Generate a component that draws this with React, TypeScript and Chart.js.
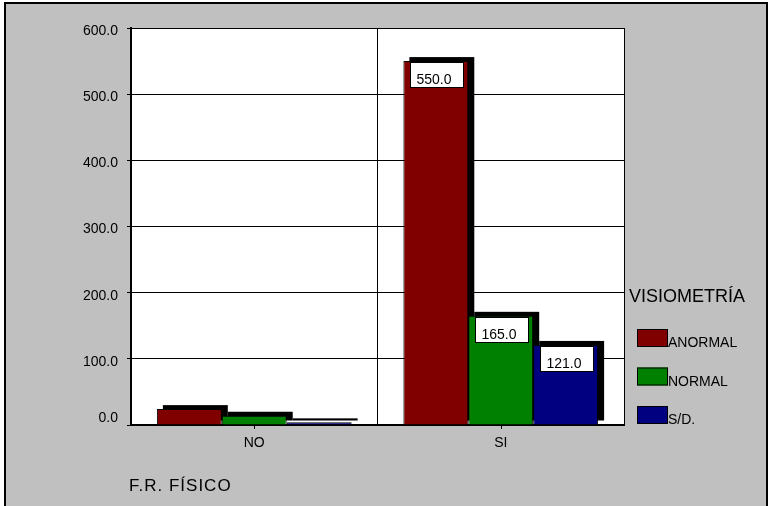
import { useEffect, useRef } from "react";
import { Chart, registerables } from "chart.js";

Chart.register(...registerables);

// Categories and series values
const categories = ["NO", "SI"];
const seriesNames = ["ANORMAL", "NORMAL", "S/D."];
const anormalValues = [24, 550];
const normalValues = [14, 165];
const sinDatoValues = [4, 121];
const seriesColors = ["#800000", "#008000", "#000080"];

// Axis setup
const yMin = 0;
const yMax = 600;
const yStep = 100;
const legendTitle = "VISIOMETRÍA";
const xAxisTitle = "F.R. FÍSICO";

const FONT = "'Liberation Sans', Arial, sans-serif";

const decorPlugin = {
  id: "spssDecor",
  beforeDraw(chart: any) {
    const { ctx, width, height, chartArea } = chart;
    ctx.save();
    ctx.fillStyle = "#ffffff";
    ctx.fillRect(0, 0, width, height);
    // grey panel with a black frame on three sides
    ctx.fillStyle = "#c0c0c0";
    ctx.fillRect(4, 3, 764, height - 3);
    ctx.fillStyle = "#000000";
    ctx.fillRect(4, 2, 764, 2);
    ctx.fillRect(4, 2, 2, height - 2);
    ctx.fillRect(766, 2, 2, height - 2);
    // white plotting area
    ctx.fillStyle = "#ffffff";
    ctx.fillRect(
      chartArea.left,
      chartArea.top,
      chartArea.right - chartArea.left,
      chartArea.bottom - chartArea.top
    );
    ctx.restore();
  },
  beforeDatasetsDraw(chart: any) {
    // drop shadows behind every bar
    const { ctx } = chart;
    ctx.save();
    ctx.fillStyle = "#000000";
    chart.data.datasets.forEach((_: any, di: number) => {
      const meta = chart.getDatasetMeta(di);
      meta.data.forEach((bar: any) => {
        const { x, y, base, width } = bar.getProps(["x", "y", "base", "width"], true);
        ctx.fillRect(x - width / 2 + 6, y - 4, width, base - y);
      });
    });
    ctx.restore();
  },
  afterDatasetsDraw(chart: any) {
    const { ctx, chartArea } = chart;
    ctx.save();
    // value boxes inside the tall bars
    ctx.font = `14px ${FONT}`;
    ctx.textBaseline = "alphabetic";
    ctx.textAlign = "left";
    chart.data.datasets.forEach((ds: any, di: number) => {
      const meta = chart.getDatasetMeta(di);
      meta.data.forEach((bar: any, i: number) => {
        const { x, y, base, width } = bar.getProps(["x", "y", "base", "width"], true);
        if (base - y < 40) return;
        const bx = Math.round(x - width / 2 + 7) + 0.5;
        const by = Math.round(y + 1) + 0.5;
        ctx.fillStyle = "#ffffff";
        ctx.fillRect(bx, by, 53, 25);
        ctx.strokeStyle = "#000000";
        ctx.lineWidth = 1;
        ctx.strokeRect(bx, by, 53, 25);
        ctx.fillStyle = "#000000";
        ctx.fillText(Number(ds.data[i]).toFixed(1), bx + 6, by + 21);
      });
    });
    // small tick marks under each category
    const xs = chart.scales.x;
    ctx.strokeStyle = "#000000";
    ctx.lineWidth = 1;
    categories.forEach((_, i) => {
      const px = Math.round(xs.getPixelForValue(i)) + 0.5;
      ctx.beginPath();
      ctx.moveTo(px, chartArea.bottom);
      ctx.lineTo(px, chartArea.bottom + 4);
      ctx.stroke();
    });
    ctx.restore();
  },
  afterDraw(chart: any) {
    const { ctx, chartArea } = chart;
    const ys = chart.scales.y;
    ctx.save();
    ctx.fillStyle = "#000000";
    ctx.textBaseline = "alphabetic";
    // baseline label of the value axis sits just above the axis line
    ctx.font = `14px ${FONT}`;
    ctx.textAlign = "right";
    ctx.textBaseline = "middle";
    ctx.fillText(yMin.toFixed(1), chartArea.left - 13, ys.getPixelForValue(yMin) - 7);
    ctx.textBaseline = "alphabetic";
    ctx.textAlign = "left";
    // legend
    ctx.font = `18px ${FONT}`;
    ctx.fillText(legendTitle, 629, 302);
    const boxTops = [329, 367.5, 406];
    chart.data.datasets.forEach((ds: any, i: number) => {
      const top = boxTops[i];
      ctx.fillStyle = ds.backgroundColor;
      ctx.fillRect(637, top, 31, 18);
      ctx.strokeStyle = "#000000";
      ctx.lineWidth = 1;
      ctx.strokeRect(637.5, top + 0.5, 30, 17);
      ctx.fillStyle = "#000000";
      ctx.font = `14px ${FONT}`;
      ctx.fillText(ds.label, 668, top + 18);
    });
    // category axis title
    ctx.font = `17px ${FONT}`;
    (ctx as any).letterSpacing = "1px";
    ctx.fillText(xAxisTitle, 129, 491);
    ctx.restore();
  },
};

export default function App() {
  const canvasRef = useRef<HTMLCanvasElement | null>(null);

  useEffect(() => {
    if (!canvasRef.current) return;
    const chart = new Chart(canvasRef.current, {
      type: "bar",
      data: {
        labels: categories,
        datasets: [anormalValues, normalValues, sinDatoValues].map((vals, i) => ({
          label: seriesNames[i],
          data: vals,
          backgroundColor: seriesColors[i],
          borderColor: "#000000",
          borderWidth: 1,
          barPercentage: 1,
          categoryPercentage: 0.79,
        })),
      },
      options: {
        responsive: false,
        animation: false,
        events: [],
        layout: { padding: { left: 0, top: 28, right: 146, bottom: 0 } },
        plugins: {
          legend: { display: false },
          tooltip: { enabled: false },
          title: { display: false },
        },
        scales: {
          x: {
            type: "category",
            grid: {
              offset: true,
              color: "#000000",
              lineWidth: 1,
              drawTicks: false,
            },
            border: { display: true, color: "#000000", width: 2 },
            ticks: {
              color: "#000000",
              font: { family: FONT, size: 14 },
              padding: 10,
            },
            afterFit(scale: any) {
              scale.height = 81;
            },
          },
          y: {
            min: yMin,
            max: yMax,
            grid: {
              color: "#000000",
              lineWidth: 1,
              drawTicks: true,
              tickLength: 4,
            },
            border: { display: true, color: "#000000", width: 2 },
            ticks: {
              stepSize: yStep,
              color: "#000000",
              font: { family: FONT, size: 14 },
              padding: 9,
              labelOffset: 3,
              callback: (v: any) => (Number(v) === yMin ? "" : Number(v).toFixed(1)),
            },
            afterFit(scale: any) {
              scale.width = 131;
            },
          },
        },
      },
      plugins: [decorPlugin],
    });
    return () => chart.destroy();
  }, []);

  return (
    <div style={{ position: "absolute", left: 0, top: 0, width: 770, height: 506 }}>
      <canvas ref={canvasRef} width={770} height={506} />
    </div>
  );
}
